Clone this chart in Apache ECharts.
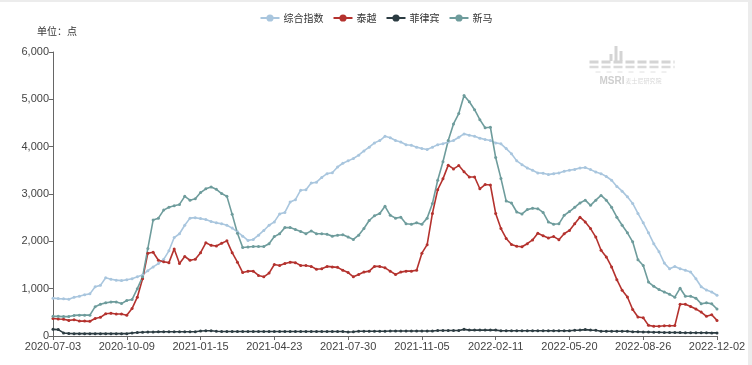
<!DOCTYPE html>
<html><head><meta charset="utf-8">
<script src="https://cdn.jsdelivr.net/npm/echarts@6/dist/echarts.min.js"></script>
<style>html,body{margin:0;padding:0;background:#fff}#c{width:752px;height:365px}</style>
</head><body><div id="c"></div>
<script>
// weekly categories from 2020-07-03 to 2022-12-02 (127 weeks)
const startDate = '2020-07-03';
const weekCount = 127;
const seriesNames = ['综合指数', '泰越', '菲律宾', '新马'];
const composite = [800,790,785,775,820,840,870,890,1040,1070,1230,1200,1180,1170,1190,1210,1250,1290,1380,1460,1530,1620,1800,2080,2160,2340,2490,2500,2480,2460,2420,2390,2370,2340,2280,2200,2110,2020,2040,2130,2230,2340,2410,2580,2610,2830,2880,3080,3090,3230,3250,3350,3430,3450,3570,3650,3700,3750,3820,3910,3990,4080,4130,4220,4190,4130,4100,4040,4030,3990,3960,3940,3990,4040,4060,4100,4130,4200,4270,4240,4220,4180,4150,4130,4080,4060,3960,3850,3700,3620,3550,3500,3445,3440,3410,3430,3445,3480,3500,3520,3550,3560,3515,3465,3430,3370,3290,3160,3060,2940,2800,2590,2390,2180,1950,1780,1540,1420,1470,1420,1390,1350,1210,1040,970,930,860];
const thaiViet = [370,360,355,330,345,315,315,310,370,395,470,480,465,465,440,580,820,1210,1750,1770,1600,1570,1550,1840,1530,1680,1600,1620,1760,1970,1915,1900,1960,2010,1760,1560,1340,1370,1370,1280,1250,1330,1510,1490,1530,1560,1550,1490,1490,1470,1410,1420,1470,1460,1450,1390,1340,1250,1300,1350,1370,1470,1470,1440,1370,1300,1350,1370,1370,1390,1750,1930,2590,3090,3320,3610,3530,3600,3470,3360,3360,3110,3200,3190,2590,2270,2060,1935,1895,1885,1950,2030,2170,2120,2070,2100,2035,2160,2230,2370,2510,2410,2270,2090,1810,1670,1460,1190,965,825,560,400,385,225,205,205,215,215,220,670,670,625,570,505,415,450,330];
const philippines = [140,135,65,55,50,50,50,50,50,50,50,50,50,50,50,65,75,80,85,85,88,90,90,90,90,90,90,90,105,110,110,100,95,95,95,95,95,95,95,95,95,95,95,95,95,95,95,95,95,95,95,95,95,95,95,95,85,90,100,100,100,100,100,100,105,105,105,105,105,105,105,105,105,115,115,115,115,115,140,125,125,125,125,125,125,110,110,110,110,110,110,110,110,110,110,110,110,110,110,120,125,135,125,120,100,100,100,100,100,100,90,90,85,85,80,80,75,75,75,72,70,70,70,68,68,65,65];
const newMalay = [415,415,410,410,435,440,440,440,620,670,700,720,720,685,750,770,1000,1250,1850,2450,2490,2660,2720,2750,2780,2950,2870,2900,3030,3110,3150,3100,3010,2950,2570,2170,1870,1880,1890,1890,1890,1950,2100,2160,2290,2290,2250,2210,2160,2220,2160,2160,2150,2110,2130,2140,2090,2040,2130,2270,2440,2540,2590,2740,2550,2490,2510,2370,2360,2390,2360,2490,2800,3290,3680,4130,4480,4700,5080,4950,4780,4570,4400,4410,3770,3330,2850,2810,2620,2580,2670,2700,2690,2610,2410,2360,2370,2550,2630,2720,2810,2870,2760,2870,2970,2870,2720,2510,2340,2180,1990,1610,1490,1140,1050,980,930,880,820,1010,840,840,800,680,700,680,570];
const yTicks = [0,1000,2000,3000,4000,5000,6000];

function pad(n){return n<10?'0'+n:''+n;}
const categories = [];
(function(){
  const d = new Date(startDate + 'T00:00:00Z');
  for (let i=0;i<weekCount;i++){
    const t = new Date(d.getTime() + i*7*86400000);
    categories.push(t.getUTCFullYear()+'-'+pad(t.getUTCMonth()+1)+'-'+pad(t.getUTCDate()));
  }
})();

const colors = ['#a9c6de', '#b4322e', '#2c3c42', '#6e9c9c'];
const dataSets = [composite, thaiViet, philippines, newMalay];
const chart = echarts.init(document.getElementById('c'), null, {renderer:'canvas'});
const font = '"Liberation Sans", Arial, "Noto Sans CJK SC", sans-serif';
const wm = '#d4d4d4';
chart.setOption({
  animation:false,
  textStyle:{fontFamily:font},
  color: colors,
  legend:{
    top:8, left:'center', itemWidth:19, itemHeight:9, itemGap:9,
    textStyle:{fontSize:10, color:'#333', fontFamily:'"Noto Sans CJK SC", sans-serif', padding:[0,0,0,-1]},
    data: seriesNames
  },
  graphic:[
    {type:'rect', left:0, top:0, shape:{width:752, height:2}, style:{fill:'#ececec'}},
    {type:'rect', right:0, top:0, shape:{width:4, height:365}, style:{fill:'#ececec'}},
    {type:'text', left:37, top:26, style:{text:'单位：点', font:'10px "Noto Sans CJK SC", sans-serif', fill:'#333'}},
    {type:'group', left:587, top:46, children:[
      {type:'rect', shape:{x:25,y:0,width:3,height:15}, style:{fill:wm}},
      {type:'rect', shape:{x:30,y:5,width:3,height:10}, style:{fill:wm}},
      {type:'rect', shape:{x:20,y:8,width:3,height:7}, style:{fill:wm}},
      {type:'line', shape:{x1:0,y1:16,x2:85,y2:16}, style:{stroke:wm, lineWidth:3, lineDash:[9,3]}},
      {type:'line', shape:{x1:0,y1:21,x2:85,y2:21}, style:{stroke:'#dadada', lineWidth:2.5, lineDash:[9,3]}},
      {type:'line', shape:{x1:6,y1:26,x2:80,y2:26}, style:{stroke:'#e0e0e0', lineWidth:1, lineDash:[5,6]}},
      {type:'text', style:{x:10, y:30, text:'MSRI', font:'bold 10px "Liberation Sans", sans-serif', fill:'#cfcfcf'}},
      {type:'text', style:{x:36, y:32, text:'麦士尼研究院', font:'6px "Noto Sans CJK SC", sans-serif', fill:'#d8d8d8'}}
    ]}
  ],
  grid:{left:53, right:35, top:52, bottom:29, containLabel:false},
  xAxis:{
    type:'category', data:categories, boundaryGap:false,
    axisLine:{show:true, lineStyle:{color:'#666'}},
    axisTick:{show:true, interval:13, length:4, lineStyle:{color:'#666'}},
    axisLabel:{interval:13, color:'#444', fontSize:11, margin:5}
  },
  yAxis:{
    type:'value', min:0, max:6000, interval:1000,
    axisLine:{show:true, lineStyle:{color:'#666'}},
    axisTick:{show:true, length:4, lineStyle:{color:'#666'}},
    splitLine:{show:false},
    axisLabel:{color:'#444', fontSize:11, margin:4, formatter:function(v){return yTicks.indexOf(v)>=0 ? v.toLocaleString('en-US') : '';}}
  },
  series: seriesNames.map(function(n,i){
    return {name:n, type:'line', data:dataSets[i], symbol:'circle', symbolSize:3, showSymbol:true,
      lineStyle:{width:1.6, color:colors[i]}, itemStyle:{color:colors[i]}, z: i===2?5:2};
  })
});
</script></body></html>
